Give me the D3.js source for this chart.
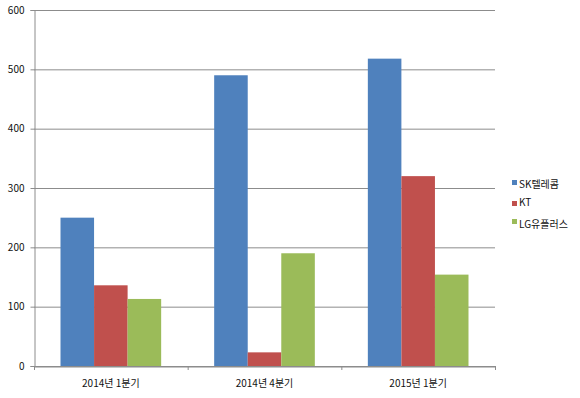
<!DOCTYPE html>
<html>
<head>
<meta charset="utf-8">
<script src="https://cdn.jsdelivr.net/npm/d3@7"></script>
<style>
  body { margin: 0; background: #fff; }
  text { font-family: "Noto Sans CJK KR", "Noto Sans", sans-serif; fill: #111; }
</style>
</head>
<body>
<svg id="chart" width="580" height="398"></svg>
<script>
// chart data
const categories = ["2014년 1분기", "2014년 4분기", "2015년 1분기"];
const seriesNames = ["SK텔레콤", "KT", "LG유플러스"];
const skValues = [250, 490, 518];
const ktValues = [136, 23, 320];
const lgValues = [113, 190, 154];
const yTicks = [0, 100, 200, 300, 400, 500, 600];

const seriesValues = [skValues, ktValues, lgValues];
const colors = ["#4F81BD", "#C0504D", "#9BBB59"];

const svg = d3.select("#chart");
const plotLeft = 34, plotRight = 495, plotTop = 10, plotBottom = 366;

const x = d3.scaleBand()
    .domain(categories)
    .range([plotLeft, plotRight])
    .paddingInner(0)
    .paddingOuter(0);

const y = d3.scaleLinear()
    .domain([0, 600])
    .range([plotBottom, plotTop]);

// inner scale for the three bars in a group
const xInner = d3.scaleBand()
    .domain(seriesNames)
    .range([0, x.bandwidth()])
    .paddingOuter(0.79)
    .paddingInner(0);

// gridlines
svg.append("g")
    .selectAll("line")
    .data(yTicks)
    .enter()
    .append("line")
    .attr("x1", plotLeft)
    .attr("x2", plotRight)
    .attr("y1", (d) => y(d) + 0.5)
    .attr("y2", (d) => y(d) + 0.5)
    .style("stroke", "#8c8c8c")
    .style("stroke-width", 1);

// bars
const rows = [];
categories.forEach(function (cat, i) {
    seriesNames.forEach(function (name, j) {
        rows.push({ cat: cat, name: name, value: seriesValues[j][i], color: colors[j] });
    });
});

svg.append("g")
    .selectAll("rect")
    .data(rows)
    .enter()
    .append("rect")
    .attr("x", (d) => x(d.cat) + xInner(d.name))
    .attr("y", (d) => y(d.value))
    .attr("width", xInner.bandwidth())
    .attr("height", (d) => y(0) - y(d.value))
    .style("fill", (d) => d.color);

// y axis
const yAxis = svg.append("g")
    .attr("transform", `translate(${plotLeft + 0.5},0)`)
    .call(d3.axisLeft(y).tickValues(yTicks).tickSize(4).tickPadding(6));
yAxis.select(".domain").style("stroke", "#8c8c8c");
yAxis.selectAll(".tick line").style("stroke", "#8c8c8c");
yAxis.selectAll(".tick text")
    .attr("font-family", null)
    .style("font-size", "10px")
    .style("fill", "#111");

// x axis
const xAxis = svg.append("g")
    .attr("transform", `translate(0,${plotBottom + 0.5})`)
    .call(d3.axisBottom(x).tickSize(0).tickPadding(13));
xAxis.select(".domain").style("stroke", "#8c8c8c");
xAxis.selectAll(".tick text")
    .attr("font-family", null)
    .style("font-size", "10px")
    .style("fill", "#111");

// category separators
svg.append("g")
    .selectAll("line")
    .data(categories.concat(["end"]))
    .enter()
    .append("line")
    .attr("x1", (d) => (d === "end" ? plotRight : x(d)) + 0.5)
    .attr("x2", (d) => (d === "end" ? plotRight : x(d)) + 0.5)
    .attr("y1", plotBottom)
    .attr("y2", plotBottom + 4)
    .style("stroke", "#8c8c8c");

// legend
const legendSquareY = [180, 201, 219];
const legendTextY = [188, 206, 228];
const legend = svg.append("g")
    .selectAll("g")
    .data(seriesNames)
    .enter()
    .append("g");

legend.append("rect")
    .attr("x", 512)
    .attr("y", (d, i) => legendSquareY[i])
    .attr("width", 5)
    .attr("height", 5)
    .style("fill", (d, i) => colors[i]);

legend.append("text")
    .attr("x", 519)
    .attr("y", (d, i) => legendTextY[i])
    .style("font-size", "10px")
    .text((d) => d);
</script>
</body>
</html>
